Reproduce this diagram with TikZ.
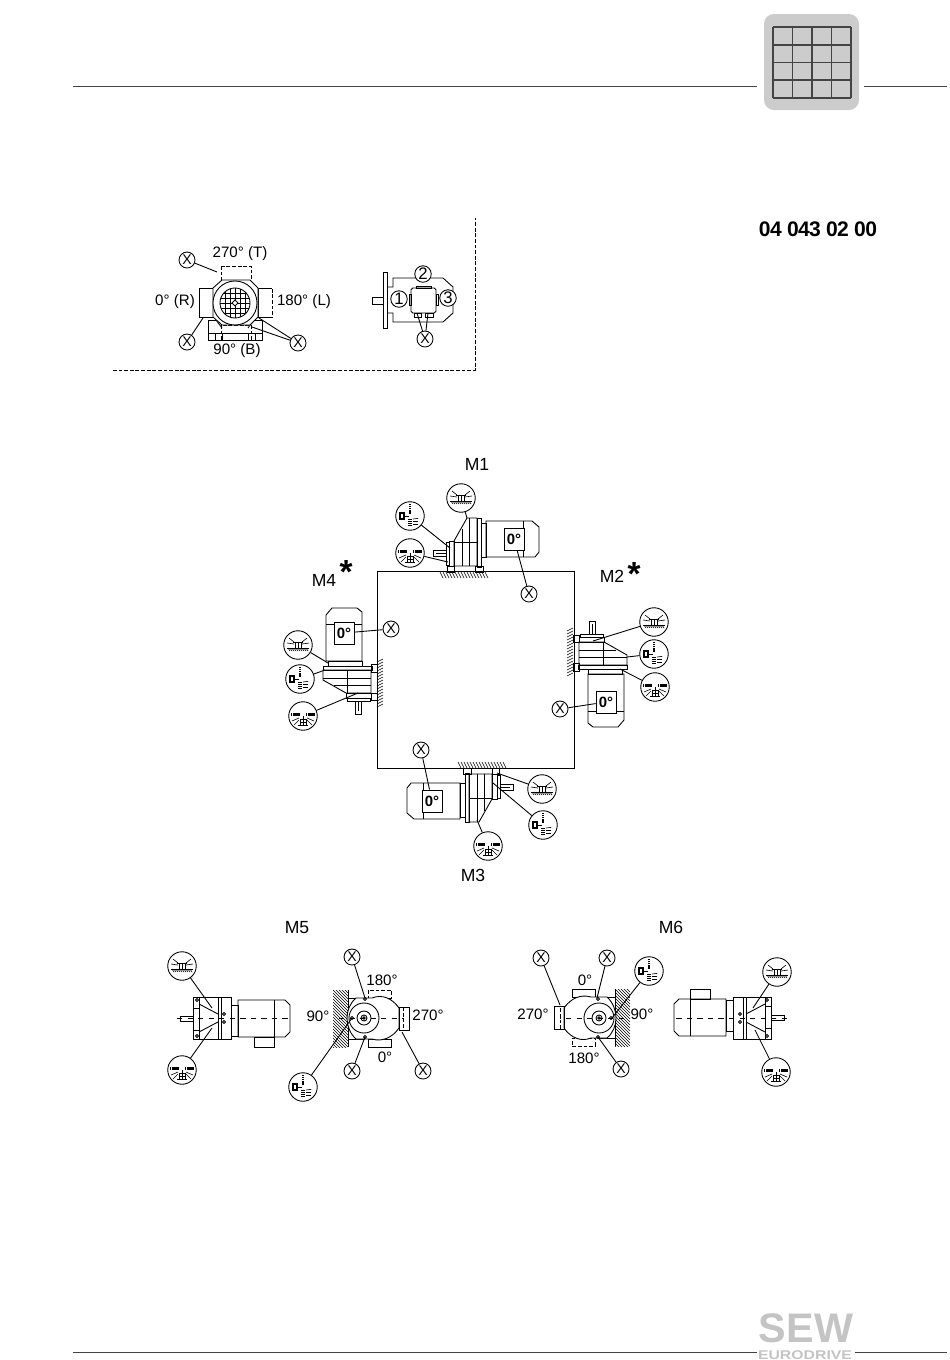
\documentclass[tikz,border=0pt]{standalone}
\usepackage{graphicx}
\usepackage{fontspec}
\setmainfont{Liberation Sans}
\definecolor{tabgray}{HTML}{CCCCCC}
\definecolor{griddark}{HTML}{444444}
\definecolor{sewgray}{HTML}{C4C4C4}

\begin{document}
\begin{tikzpicture}[x=0.02cm,y=-0.02cm,line width=0.5pt]
  \useasboundingbox (0,0) rectangle (950,1360);

  \tikzset{xmark/.style={circle, draw, fill=white, inner sep=0pt, minimum size=0.32cm, font=\fontsize{8}{8}\selectfont}}
  \tikzset{numcirc/.style={circle, draw, fill=white, inner sep=0pt, minimum size=0.33cm, font=\fontsize{9.5}{10}\selectfont}}
  \tikzset{lube/.style={circle, draw, fill=white, inner sep=0pt, minimum size=0.57cm}}
  \tikzset{mlabel/.style={font=\fontsize{10}{12}\selectfont}}
  \tikzset{anglelabel/.style={font=\fontsize{8.6}{10}\selectfont}}
  \tikzset{boxlabel/.style={draw, fill=white, inner sep=0pt, minimum width=0.4cm, minimum height=0.44cm, font=\bfseries\fontsize{8.5}{9}\selectfont}}
  \tikzset{hair/.style={line width=0.35pt}}
  \tikzset{fine/.style={dash pattern=on 2.2pt off 1pt}}

  % lubrication symbols
  \tikzset{ventroof/.pic={
    \node[lube] (c) at (0,0) {};
    \draw (-11,3) -- (11,3);
    \foreach \hx in {-10,-8,...,8} \draw[hair] (\hx,3) -- (\hx+2,6);
    \draw (-3,3) -- (-3,-3) -- (3,-3) -- (3,3);
    \draw (0,-3) -- (0,3);
    \draw (-5,-3) -- (5,-3);
    \draw[hair] (-4,-1) -- (-11,-2);
    \draw[hair] (-4,-3) -- (-9,-7);
    \draw[hair] (4,-1) -- (11,-2);
    \draw[hair] (4,-3) -- (9,-7);
  }}
  \tikzset{ventside/.pic={
    \node[lube] (c) at (0,0) {};
    \draw[line width=1.6pt, dash pattern=on 0.7pt off 0.5pt] (0,-12) -- (0,-2);
    \draw[line width=2pt, dash pattern=on 0.7pt off 0.5pt] (0,3) -- (0,10);
    \draw[line width=0.7pt] (-10,-3) rectangle (-6,3);
    \draw (-6,0) -- (-1,0);
    \draw[hair, dashed] (3,3) -- (11,2);
    \draw[hair, dashed] (3,5) -- (11,5);
    \draw[hair, dashed] (3,8) -- (10,8);
  }}
  \tikzset{ventfloor/.pic={
    \node[lube] (c) at (0,0) {};
    \draw[line width=1.7pt, dash pattern=on 0.8pt off 0.4pt] (-12,-2) -- (-3,-2);
    \draw[line width=1.7pt, dash pattern=on 0.8pt off 0.4pt] (3,-2) -- (12,-2);
    \draw (-3,3) rectangle (3,9);
    \draw (0,0) -- (0,10);
    \draw (-3,6) -- (3,6);
    \draw (-5,9) -- (5,9);
    \draw[hair] (-4,2) -- (-11,5);
    \draw[hair] (-4,4) -- (-9,9);
    \draw[hair] (4,2) -- (11,5);
    \draw[hair] (4,4) -- (9,9);
  }}

  % gear unit on a wall, shaft to the left of the motor
  \tikzset{gearmotor/.pic={
    \foreach \hx in {-24,-21,...,21} \draw[hair] (\hx,0) -- (\hx+3,6);
    \draw (-17,-6) rectangle (-10,0);
    \draw (11,-6) rectangle (19,0);
    \draw (-10,-31) -- (3,-54) -- (13,-54) -- (13,-6) -- (-10,-6) -- cycle;
    \draw (-15,-31) rectangle (-10,-6);
    \draw (-18,-30) rectangle (-15,-7);
    \draw (13,-54) rectangle (17,-5);
    \draw (17,-49) rectangle (22,-15);
    \draw (-10,-30) -- (13,-30);
    \draw (-2,-43) -- (-2,-6);
    \draw (5,-54) -- (5,-6);
    \draw (-31,-22) rectangle (-18,-16);
    \draw (-28,-19) -- (-18,-19);
    \draw (22,-51) -- (68,-51) -- (75,-45) -- (75,-20) -- (71,-15) -- (22,-15) -- cycle;
    \draw (59,-51) -- (59,-15);
    \node[boxlabel] (box) at (50,-33) {0°};
  }}

  % M5, M6 seen from the side
  \tikzset{sideview/.pic={
    \draw (-51,-2) rectangle (-38,3);
    \draw (-38,-10) rectangle (-32,12);
    \draw (-38,-21) rectangle (0,21);
    \draw (-13,-21) -- (-13,21);
    \draw (-32,-14) -- (-13,-4);
    \draw (-32,14) -- (-13,4);
    \draw (-32,-21) -- (-32,21);
    \draw (-10,-21) -- (-10,21);
    \draw (-34,-18) circle[radius=1.5];
    \draw (-34,18) circle[radius=1.5];
    \draw (-7,-4) circle[radius=1.5];
    \draw (-7,4) circle[radius=1.5];
    \draw (0,-13) rectangle (7,18);
    \draw (7,-18) -- (54,-18) -- (59,-13) -- (59,14) -- (54,19) -- (7,19) -- cycle;
    \draw (43,-18) -- (43,19);
    \draw (23,19) rectangle (43,29);
    \draw[dashed] (-54,0) -- (59,0);
  }}

  % M5, M6 seen from the end
  \tikzset{frontview/.pic={
    \begin{scope}
      \clip (-31,-28) rectangle (-16,29);
      \foreach \hy in {-43,-40,...,29} \draw[hair] (-31,\hy) -- (-16,\hy+15);
    \end{scope}
    \draw (-16,-28) -- (-16,29);
    \draw (-16,-20) rectangle (0,21);
    \draw (-16,-8) -- (-12,-8);
    \draw (-16,8) -- (-12,8);
    \draw[fine] (4,-28) rectangle (27,-20);
    \draw (4,21) rectangle (27,29);
    \draw[fill=white] (-8,-20) -- (8,-20) .. controls (18,-24) and (28,-20) .. (35,-10) -- (35,10) .. controls (28,20) and (18,24) .. (8,21) -- (-8,21) .. controls (-20,10) and (-20,-10) .. (-8,-20) -- cycle;
    \draw (35,-11) rectangle (45,12);
    \draw[fine] (39,-11) -- (39,12);
    \draw (0,0) circle[radius=15];
    \draw (0,0) circle[radius=7];
    \draw (0,0) circle[radius=3];
    \draw (0,0) circle[radius=1.2];
    \draw (1,-19) circle[radius=1.5];
    \draw (1,19) circle[radius=1.5];
    \draw (-12,0) circle[radius=1.5];
    \draw[dashed] (-25,0) -- (39,0);
  }}

  % header and footer
  \draw[griddark, line width=0.45pt] (73,86) -- (757,86);
  \draw[griddark, line width=0.45pt] (864,86) -- (947,86);
  \draw[griddark, line width=0.45pt] (73,1352) -- (757,1352);
  \draw[griddark, line width=0.45pt] (855,1352) -- (947,1352);
  \fill[tabgray, rounded corners=0.2cm] (764,14) rectangle (859,110);
  \foreach \gx in {773,792.5,812,831.5,851} \draw[griddark, line width=0.9pt] (\gx,27) -- (\gx,98);
  \foreach \gy in {27,44.75,62.5,80.25,98} \draw[griddark, line width=0.9pt] (773,\gy) -- (851,\gy);
  \node[font=\bfseries\fontsize{23.5}{24}\selectfont, text=sewgray, inner sep=0pt] (sew) at (806,1328) {SEW};
  \node[font=\bfseries\fontsize{9}{9}\selectfont, text=sewgray, inner sep=0pt] (eurodrive) at (805,1355) {\scalebox{1}[0.8]{EURODRIVE}};
  \node[font=\bfseries\fontsize{12}{14}\selectfont\addfontfeature{LetterSpace=-3}] (ident) at (818,229) {04 043 02 00};

  % key panel
  \draw[fine] (113,370) -- (475,370) -- (475,218);

  \draw (208,320) rectangle (262,340);
  \draw (208,333) -- (262,333);
  \foreach \bx in {215,222,248,255} \draw (\bx,333) -- (\bx,340);
  \draw (216,320) -- (222,328);
  \draw (254,320) -- (248,328);
  \draw[fine] (221,325) rectangle (251,340);
  \draw[fine] (221,266) rectangle (251,280);
  \draw (199,288) rectangle (213,317);
  \draw[fine] (258,288) rectangle (272,317);
  \draw (258,288) -- (258,317) (258,317) -- (272,317) (258,288) -- (272,288);
  \draw[fill=white] (213,288) -- (222,280) -- (250,280) -- (258,288) -- (258,317) -- (250,325) -- (222,325) -- (213,317) -- cycle;
  \draw[fill=white] (235,303) circle[radius=22];
  \draw (235,303) circle[radius=15];
  \begin{scope}
    \clip (235,303) circle[radius=15];
    \foreach \d in {-10,-5,0,5,10} {
      \draw (235+\d,288) -- (235+\d,318);
      \draw (220,303+\d) -- (250,303+\d);
    }
  \end{scope}
  \draw[fill=white] (235,300) -- (238,303) -- (235,306) -- (232,303) -- cycle;

  \node[anglelabel] (keytop) at (240,254) {270° (T)};
  \node[anglelabel] (keyright) at (175,302) {0° (R)};
  \node[anglelabel] (keyleft) at (304,302) {180° (L)};
  \node[anglelabel] (keybottom) at (237,351) {90° (B)};

  \node[xmark] (xtop) at (187,260) {X};
  \node[xmark] (xright) at (187,342) {X};
  \node[xmark] (xleft) at (298,343) {X};
  \coordinate (xtopend) at (217,272);
  \coordinate (xrightend) at (203,318);
  \coordinate (xleftend) at (259,318);
  \coordinate (xbottomend) at (252,327);
  \draw (xtop) -- (xtopend);
  \draw (xright) -- (xrightend);
  \draw (xleft) -- (xleftend);
  \draw (xleft) -- (xbottomend);

  \draw (383,272) rectangle (387,328);
  \draw (372,297) rectangle (383,304);
  \draw (387,287) -- (393,287) -- (393,278) -- (443,278) -- (453,287) -- (453,313) -- (443,322) -- (393,322) -- (393,313) -- (387,313);
  \draw[rounded corners=1pt] (411,288) rectangle (436,313);
  \draw (409,294) rectangle (411,305);
  \draw (436,294) rectangle (438,305);
  \draw (416,286) rectangle (431,288);
  \draw (414,313) rectangle (421,317);
  \draw (425,313) rectangle (433,317);
  \node[numcirc] (one) at (399,299) {1};
  \node[numcirc] (two) at (423,274) {2};
  \node[numcirc] (three) at (448,298) {3};
  \node[xmark] (xside) at (425,339) {X};
  \coordinate (xsidea) at (417,313);
  \coordinate (xsideb) at (428,313);
  \draw (xside) -- (xsidea);
  \draw (xside) -- (xsideb);

  % wall square with M1 to M4
  \draw (377,571) rectangle (574,768);

  \node[mlabel] (lm1) at (477,464) {M1};
  \node[mlabel] (lm2) at (612,576) {M2};
  \node[mlabel] (lm3) at (473,875) {M3};
  \node[mlabel] (lm4) at (324,580) {M4};
  \node[font=\bfseries\fontsize{19}{19}\selectfont] (star2) at (634,574) {*};
  \node[font=\bfseries\fontsize{19}{19}\selectfont] (star4) at (346,572) {*};

  \pic (m1) at (464,572) {gearmotor};
  \pic[rotate=-90] (m2) at (573,652) {gearmotor};
  \pic[rotate=180] (m3) at (482,768) {gearmotor};
  \pic[rotate=90] (m4) at (377,683) {gearmotor};

  \pic (m1roof) at (461,498) {ventroof};
  \pic (m1side) at (410,516) {ventside};
  \pic (m1floor) at (410,553) {ventfloor};
  \node[xmark] (m1x) at (529,594) {X};
  \coordinate (m1a) at (467,518);
  \coordinate (m1b) at (450,548);
  \coordinate (m1c) at (448,562);
  \draw (m1roofc) -- (m1a);
  \draw (m1sidec) -- (m1b);
  \draw (m1floorc) -- (m1c);
  \draw (m1x) -- (m1box);

  \pic (m2roof) at (654,622) {ventroof};
  \pic (m2side) at (654,654) {ventside};
  \pic (m2floor) at (655,687) {ventfloor};
  \node[xmark] (m2x) at (560,709) {X};
  \coordinate (m2a) at (593,641);
  \coordinate (m2b) at (627,657);
  \coordinate (m2c) at (620,669);
  \draw (m2roofc) -- (m2a);
  \draw (m2sidec) -- (m2b);
  \draw (m2floorc) -- (m2c);
  \draw (m2x) -- (m2box);

  \pic (m3roof) at (542,789) {ventroof};
  \pic (m3side) at (543,825) {ventside};
  \pic (m3floor) at (488,846) {ventfloor};
  \node[xmark] (m3x) at (421,750) {X};
  \coordinate (m3a) at (497,773);
  \coordinate (m3b) at (493,783);
  \coordinate (m3c) at (477,820);
  \draw (m3roofc) -- (m3a);
  \draw (m3sidec) -- (m3b);
  \draw (m3floorc) -- (m3c);
  \draw (m3x) -- (m3box);

  \pic (m4roof) at (298,645) {ventroof};
  \pic (m4side) at (300,679) {ventside};
  \pic (m4floor) at (303,716) {ventfloor};
  \node[xmark] (m4x) at (391,629) {X};
  \coordinate (m4a) at (328,663);
  \coordinate (m4b) at (325,670);
  \coordinate (m4c) at (358,693);
  \draw (m4roofc) -- (m4a);
  \draw (m4sidec) -- (m4b);
  \draw (m4floorc) -- (m4c);
  \draw (m4x) -- (m4box);

  % M5
  \node[mlabel] (lm5) at (297,928) {M5};
  \pic (m5s) at (231,1018) {sideview};
  \pic (m5f) at (364,1018) {frontview};
  \node[anglelabel] (m5t) at (382,980) {180°};
  \node[anglelabel] (m5r) at (428,1015) {270°};
  \node[anglelabel] (m5l) at (318,1016) {90°};
  \node[anglelabel] (m5b) at (385,1057) {0°};
  \pic (m5roof) at (182,966) {ventroof};
  \pic (m5floor) at (182,1070) {ventfloor};
  \pic (m5side) at (303,1087) {ventside};
  \node[xmark] (m5xa) at (352,957) {X};
  \node[xmark] (m5xb) at (352,1071) {X};
  \node[xmark] (m5xc) at (423,1071) {X};
  \coordinate (m5a) at (212,1008);
  \coordinate (m5b) at (212,1028);
  \coordinate (m5c) at (352,1018);
  \coordinate (m5d) at (365,998);
  \coordinate (m5e) at (365,1037);
  \coordinate (m5g) at (402,1032);
  \draw (m5roofc) -- (m5a);
  \draw (m5floorc) -- (m5b);
  \draw (m5sidec) -- (m5c);
  \draw (m5xa) -- (m5d);
  \draw (m5xb) -- (m5e);
  \draw (m5xc) -- (m5g);

  % M6
  \node[mlabel] (lm6) at (671,927) {M6};
  \pic[rotate=180] (m6f) at (599,1018) {frontview};
  \pic[rotate=180] (m6s) at (733,1018) {sideview};
  \node[anglelabel] (m6t) at (585,980) {0°};
  \node[anglelabel] (m6l) at (533,1014) {270°};
  \node[anglelabel] (m6r) at (642,1014) {90°};
  \node[anglelabel] (m6b) at (584,1058) {180°};
  \pic (m6side) at (649,971) {ventside};
  \pic (m6roof) at (777,972) {ventroof};
  \pic (m6floor) at (776,1072) {ventfloor};
  \node[xmark] (m6xa) at (541,958) {X};
  \node[xmark] (m6xb) at (607,958) {X};
  \node[xmark] (m6xc) at (621,1069) {X};
  \coordinate (m6a) at (612,1018);
  \coordinate (m6b) at (753,1008);
  \coordinate (m6c) at (755,1030);
  \coordinate (m6d) at (560,1005);
  \coordinate (m6e) at (597,998);
  \coordinate (m6g) at (598,1037);
  \draw (m6sidec) -- (m6a);
  \draw (m6roofc) -- (m6b);
  \draw (m6floorc) -- (m6c);
  \draw (m6xa) -- (m6d);
  \draw (m6xb) -- (m6e);
  \draw (m6xc) -- (m6g);
\end{tikzpicture}
\end{document}
